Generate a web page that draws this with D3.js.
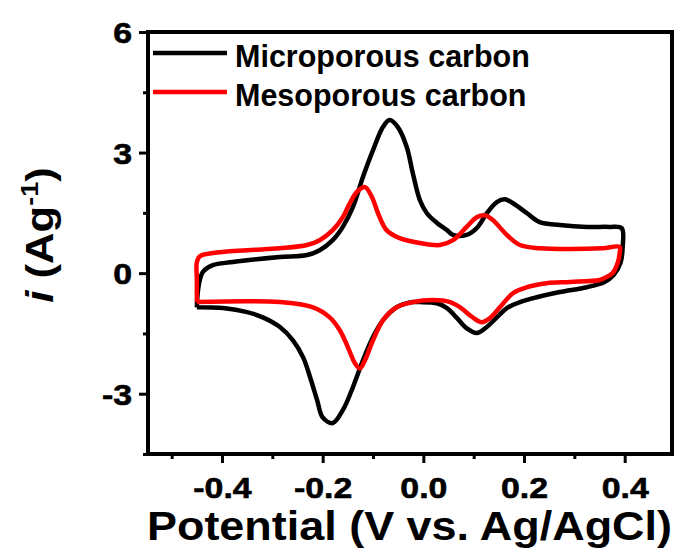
<!DOCTYPE html>
<html><head><meta charset="utf-8">
<title>CV curves</title>
<script src="https://cdn.jsdelivr.net/npm/d3@7/dist/d3.min.js"></script>
<style>
body { margin: 0; background: #fff; }
text { font-family: Arial, "Liberation Sans", sans-serif; font-weight: bold; }
</style>
</head>
<body>
<script>

// potential (V) and current (A/g), one closed loop each
var micro_x = [-0.450,-0.448,-0.444,-0.438,-0.418,-0.384,-0.350,-0.285,-0.231,-0.206,-0.180,-0.160,-0.140,-0.120,-0.100,-0.080,-0.067,-0.051,-0.033,-0.021,-0.007,0.007,0.027,0.047,0.059,0.086,0.106,0.126,0.146,0.162,0.178,0.206,0.231,0.271,0.325,0.370,0.394,0.396,0.392,0.378,0.360,0.325,0.271,0.225,0.192,0.166,0.146,0.126,0.106,0.086,0.067,0.047,0.027,-0.007,-0.021,-0.053,-0.080,-0.100,-0.120,-0.140,-0.160,-0.180,-0.200,-0.211,-0.225,-0.239,-0.259,-0.285,-0.319,-0.350,-0.398,-0.450];
var micro_y = [-0.85,-0.47,-0.17,0.03,0.20,0.27,0.32,0.40,0.45,0.57,0.82,1.15,1.64,2.39,3.06,3.64,3.81,3.64,3.14,2.49,1.82,1.49,1.25,1.07,0.95,0.95,1.12,1.49,1.77,1.84,1.74,1.49,1.27,1.20,1.15,1.15,1.12,0.65,0.27,-0.05,-0.22,-0.35,-0.47,-0.60,-0.72,-0.87,-1.10,-1.34,-1.49,-1.37,-1.12,-0.87,-0.75,-0.72,-0.72,-0.85,-1.17,-1.59,-2.17,-2.84,-3.41,-3.73,-3.59,-3.16,-2.59,-2.09,-1.67,-1.34,-1.10,-0.97,-0.87,-0.85];

var meso_x = [-0.450,-0.450,-0.450,-0.444,-0.418,-0.350,-0.285,-0.231,-0.206,-0.180,-0.160,-0.146,-0.132,-0.116,-0.102,-0.090,-0.073,-0.047,-0.007,0.033,0.059,0.086,0.106,0.122,0.138,0.166,0.192,0.231,0.291,0.356,0.390,0.390,0.386,0.376,0.360,0.350,0.291,0.245,0.206,0.178,0.152,0.132,0.116,0.098,0.073,0.053,0.019,-0.021,-0.053,-0.080,-0.100,-0.116,-0.126,-0.136,-0.150,-0.166,-0.186,-0.219,-0.285,-0.350,-0.450];
var meso_y = [-0.72,-0.17,0.27,0.42,0.50,0.57,0.62,0.70,0.82,1.07,1.39,1.74,2.02,2.14,1.89,1.49,1.07,0.87,0.75,0.70,0.82,1.15,1.39,1.44,1.32,0.95,0.70,0.62,0.60,0.62,0.65,0.50,0.25,0.00,-0.12,-0.17,-0.22,-0.25,-0.35,-0.50,-0.85,-1.12,-1.22,-1.10,-0.85,-0.72,-0.67,-0.72,-0.85,-1.17,-1.67,-2.17,-2.37,-2.24,-1.84,-1.42,-1.10,-0.85,-0.72,-0.70,-0.72];

var series_names = ["Microporous carbon", "Mesoporous carbon"];
var x_major = [-0.4, -0.2, 0.0, 0.2, 0.4];
var x_minor = [-0.5, -0.3, -0.1, 0.1, 0.3];
var y_major = [-3, 0, 3, 6];
var y_minor = [-4.5, -1.5, 1.5, 4.5];

var width = 681, height = 554;
// plot box (note: "top" is taken by window.top, so prefix these)
var boxL = 148, boxR = 672, boxT = 32, boxB = 454;

var svg = d3.select("body").append("svg").attr("width", width).attr("height", height);

var x = d3.scaleLinear().domain([-0.547, 0.494]).range([boxL, boxR]);
var y = d3.scaleLinear().domain([-4.5, 6]).range([boxB, boxT]);

function zip(xs, ys) {
	return xs.map(function(v, i) { return [v, ys[i]]; });
}

var series = [
	{name: series_names[0], color: "#000000", pts: zip(micro_x, micro_y)},
	{name: series_names[1], color: "#ff0000", pts: zip(meso_x, meso_y)}
];

var line = d3.line()
	.x(function(d) { return x(d[0]); })
	.y(function(d) { return y(d[1]); })
	.curve(d3.curveCatmullRom.alpha(0.5));

svg.append("g").selectAll("path").data(series).enter().append("path")
	.attr("d", function(d) { return line(d.pts); })
	.attr("fill", "none")
	.attr("stroke", function(d) { return d.color; })
	.attr("stroke-width", 4.5)
	.attr("stroke-linejoin", "round");

// axes
var xAxis = svg.append("g").attr("transform", "translate(0," + boxB + ")")
	.call(d3.axisBottom(x).tickValues(x_major).tickSize(9).tickFormat(function(d) { return d.toFixed(1); }));
var xMinor = svg.append("g").attr("transform", "translate(0," + boxB + ")")
	.call(d3.axisBottom(x).tickValues(x_minor).tickSize(5).tickFormat(""));
var yAxis = svg.append("g").attr("transform", "translate(" + boxL + ",0)")
	.call(d3.axisLeft(y).tickValues(y_major).tickSize(9).tickFormat(function(d) { return String(d); }));
var yMinor = svg.append("g").attr("transform", "translate(" + boxL + ",0)")
	.call(d3.axisLeft(y).tickValues(y_minor).tickSize(5).tickFormat(""));

svg.selectAll(".domain").remove();
svg.selectAll(".tick line").attr("stroke", "#000").attr("stroke-width", 3);

// tick labels are a bit wide and heavy in the original
xAxis.selectAll("text")
	.attr("y", 44).attr("dy", null)
	.attr("font-size", 30).attr("fill", "#000")
	.attr("stroke", "#000").attr("stroke-width", 0.6)
	.attr("transform", "scale(1.13,1)");
yAxis.selectAll("text")
	.attr("x", -14).attr("dy", "0.36em")
	.attr("font-size", 30).attr("fill", "#000")
	.attr("stroke", "#000").attr("stroke-width", 0.6)
	.attr("transform", "scale(1.13,1)");

// frame
svg.append("rect")
	.attr("x", boxL).attr("y", boxT)
	.attr("width", boxR - boxL).attr("height", boxB - boxT)
	.attr("fill", "none").attr("stroke", "#000").attr("stroke-width", 4);

// axis titles
svg.append("text")
	.attr("x", 147).attr("y", 540)
	.attr("font-size", 41)
	.attr("textLength", 525).attr("lengthAdjust", "spacingAndGlyphs")
	.text("Potential (V vs. Ag/AgCl)");

var yt = svg.append("text")
	.attr("transform", "translate(53,235) rotate(-90) scale(1.12,1)")
	.attr("text-anchor", "middle")
	.attr("font-size", 39);
yt.append("tspan").attr("font-style", "italic").text("i");
yt.append("tspan").text(" (Ag");
yt.append("tspan").attr("font-size", 24).attr("dy", -15).text("-1");
yt.append("tspan").attr("dy", 15).text(")");

// legend
var leg = svg.append("g").selectAll("g").data(series).enter().append("g")
	.attr("transform", function(d, i) { return "translate(153," + (53 + i * 39) + ")"; });
leg.append("line")
	.attr("x1", 0).attr("x2", 74)
	.attr("stroke", function(d) { return d.color; })
	.attr("stroke-width", 4.5);
leg.append("text")
	.attr("x", 82).attr("y", 14)
	.attr("font-size", 30.5)
	.text(function(d) { return d.name; });

</script>
</body></html>
